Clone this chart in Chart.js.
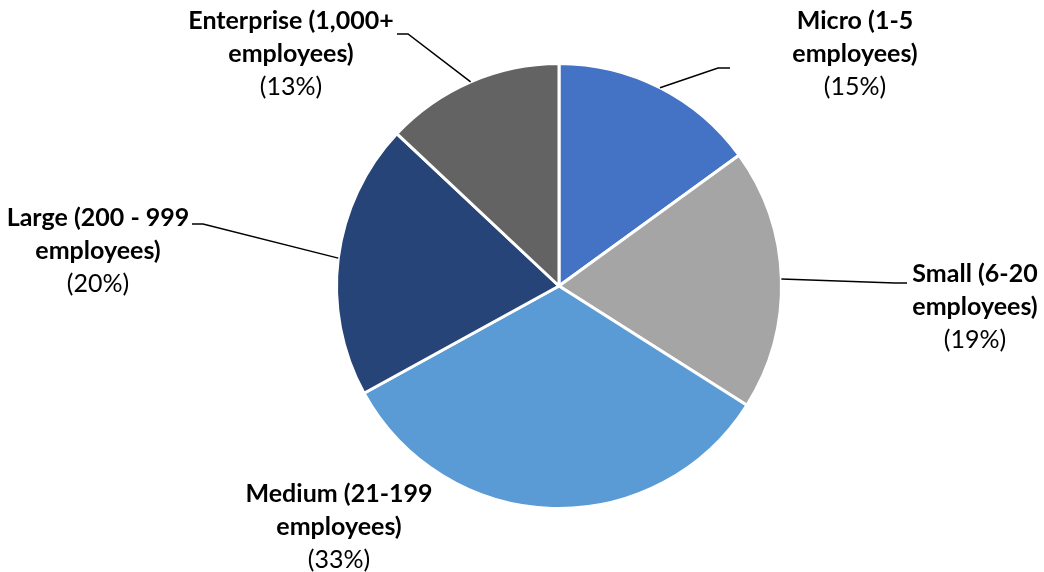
<!DOCTYPE html>
<html>
<head>
<meta charset="utf-8">
<script src="https://cdn.jsdelivr.net/npm/chart.js@4"></script>
<style>
  html, body { margin: 0; padding: 0; background: #fff; }
  #wrap { width: 1044px; height: 572px; }
</style>
</head>
<body>
<div id="wrap"><canvas id="grafico_pizza" width="1044" height="572"></canvas></div>
<script>
let ctx = document.getElementById('grafico_pizza')

// categorias (cada uma em duas linhas) e percentuais
const categorias = [
  ['Micro (1-5', 'employees)'],
  ['Small (6-20', 'employees)'],
  ['Medium (21-199', 'employees)'],
  ['Large (200 - 999', 'employees)'],
  ['Enterprise (1,000+', 'employees)']
]
const valores = [15, 19, 33, 20, 13]
const cores = ['#4472C4', '#A5A5A5', '#5B9BD5', '#264478', '#636363']

// posição dos rótulos em relação ao centro da pizza: [texto dx, dy, fim da linha dx, dy]
const posRotulos = [
  [296, -265, 171, -218],
  [416, -12, 348, -3],
  [-220, 208, null, null],
  [-461, -68, -367, -62],
  [-268, -265, -162, -252]
]

const fonte = 'Lato, "Liberation Sans", sans-serif'
const alturaLinha = 33

const rotulos = {
  id: 'rotulos',
  afterDraw(chart) {
    const c = chart.ctx
    const arcos = chart.getDatasetMeta(0).data
    c.save()
    arcos.forEach((arco, i) => {
      const p = posRotulos[i]
      const cx = arco.x, cy = arco.y
      // linha de chamada
      if (p[2] !== null) {
        const meio = (arco.startAngle + arco.endAngle) / 2
        const r = arco.outerRadius
        const ex = cx + p[2], ey = cy + p[3]
        const cotovelo = ex + (p[2] > 0 ? -12 : 11)
        c.beginPath()
        c.moveTo(cx + r * Math.cos(meio), cy + r * Math.sin(meio))
        c.lineTo(cotovelo, ey)
        c.lineTo(ex, ey)
        c.strokeStyle = '#000'
        c.lineWidth = 1.5
        c.stroke()
      }
      // texto
      const tx = cx + p[0], ty = cy + p[1]
      c.fillStyle = '#000'
      c.textAlign = 'center'
      c.textBaseline = 'middle'
      c.font = 'bold 25px ' + fonte
      categorias[i].forEach((linha, k) => c.fillText(linha, tx, ty + k * alturaLinha))
      c.font = '25px ' + fonte
      c.fillText('(' + valores[i] + '%)', tx, ty + categorias[i].length * alturaLinha)
    })
    c.restore()
  }
}

const data = {
  labels: categorias,
  datasets: [{
    data: valores,
    backgroundColor: cores,
    borderColor: '#fff',
    borderWidth: 3,
    hoverOffset: 0
  }]
}

const config = {
  type: 'pie',
  data,
  options: {
    responsive: false,
    animation: false,
    layout: {
      padding: { top: 62, bottom: 62, left: 335, right: 261 }
    },
    plugins: {
      legend: { display: false },
      tooltip: { enabled: false }
    }
  },
  plugins: [rotulos]
}

const grafico = new Chart(ctx, config)
</script>
</body>
</html>
